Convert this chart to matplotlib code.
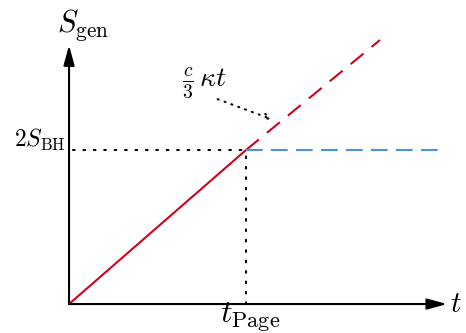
import matplotlib
matplotlib.use("Agg")
import matplotlib.pyplot as plt

plt.rcParams["mathtext.fontset"] = "cm"
plt.rcParams["font.family"] = ["DejaVu Serif"]

# Schematic values (arbitrary units)
t_page = 1.0
two_s_bh = 1.0
t_linear_end = 1.757
s_linear_end = 1.714
t_axis_end = 2.136
s_axis_end = 1.68
t_plateau_end = 2.113

red = "#d0021b"
blue = "#4a90e2"

fig = plt.figure(figsize=(4.66, 3.33), dpi=100)
ax = fig.add_axes([0, 0, 1, 1])
ax.set_xlim(-0.390, 2.243)
ax.set_ylim(-0.188, 1.974)
ax.axis("off")

arrow_kw = dict(arrowstyle="-|>,head_length=1.2,head_width=0.33",
                lw=1.5, color="black", shrinkA=0, shrinkB=0)

# coordinate axes
ax.annotate("", xy=(t_axis_end, 0), xytext=(0, 0), arrowprops=arrow_kw)
ax.annotate("", xy=(0, s_axis_end), xytext=(0, 0), arrowprops=arrow_kw)

# linear growth up to the Page time
ax.plot([0, t_page], [0, two_s_bh], color=red, lw=1.5, solid_capstyle="butt")
# continued linear growth (dashed)
ax.plot([t_page, t_linear_end], [two_s_bh, s_linear_end],
        color=red, lw=1.5, dashes=(8, 5))
# plateau at 2 S_BH
ax.plot([t_page, t_plateau_end], [two_s_bh, two_s_bh], color=blue, lw=1.5,
        dashes=(8, 4))

# guide lines
ax.plot([0.02, t_page], [two_s_bh, two_s_bh], color="black", lw=1.5,
        dashes=(0.8, 4.2), dash_capstyle="round")
ax.plot([t_page, t_page], [0, two_s_bh], color="black", lw=1.5,
        dashes=(0.8, 4.2), dash_capstyle="round")

# labels
ax.text(-0.068, 1.768, r"$S_{\rm gen}$", fontsize=22, ha="left",
        va="baseline")
ax.text(2.153, -0.052, r"$t$", fontsize=21, ha="left", va="baseline")
ax.text(-0.017, 1.02, r"$2S_{\rm BH}$", fontsize=17, ha="right",
        va="baseline")
ax.text(0.853, -0.123, r"$t_{\rm Page}$", fontsize=23, ha="left",
        va="baseline")

ax.text(0.64, 1.413, r"$\frac{c}{3}\,\kappa t$", fontsize=20, ha="left",
        va="baseline")
ax.annotate("", xy=(1.145, 1.2), xytext=(0.84, 1.33),
            arrowprops=dict(arrowstyle="->,head_length=0.4,head_width=0.2",
                            lw=1.5, color="black", linestyle=(0, (0.5, 3)),
                            shrinkA=0, shrinkB=0))

fig.savefig("out.png", dpi=100)
